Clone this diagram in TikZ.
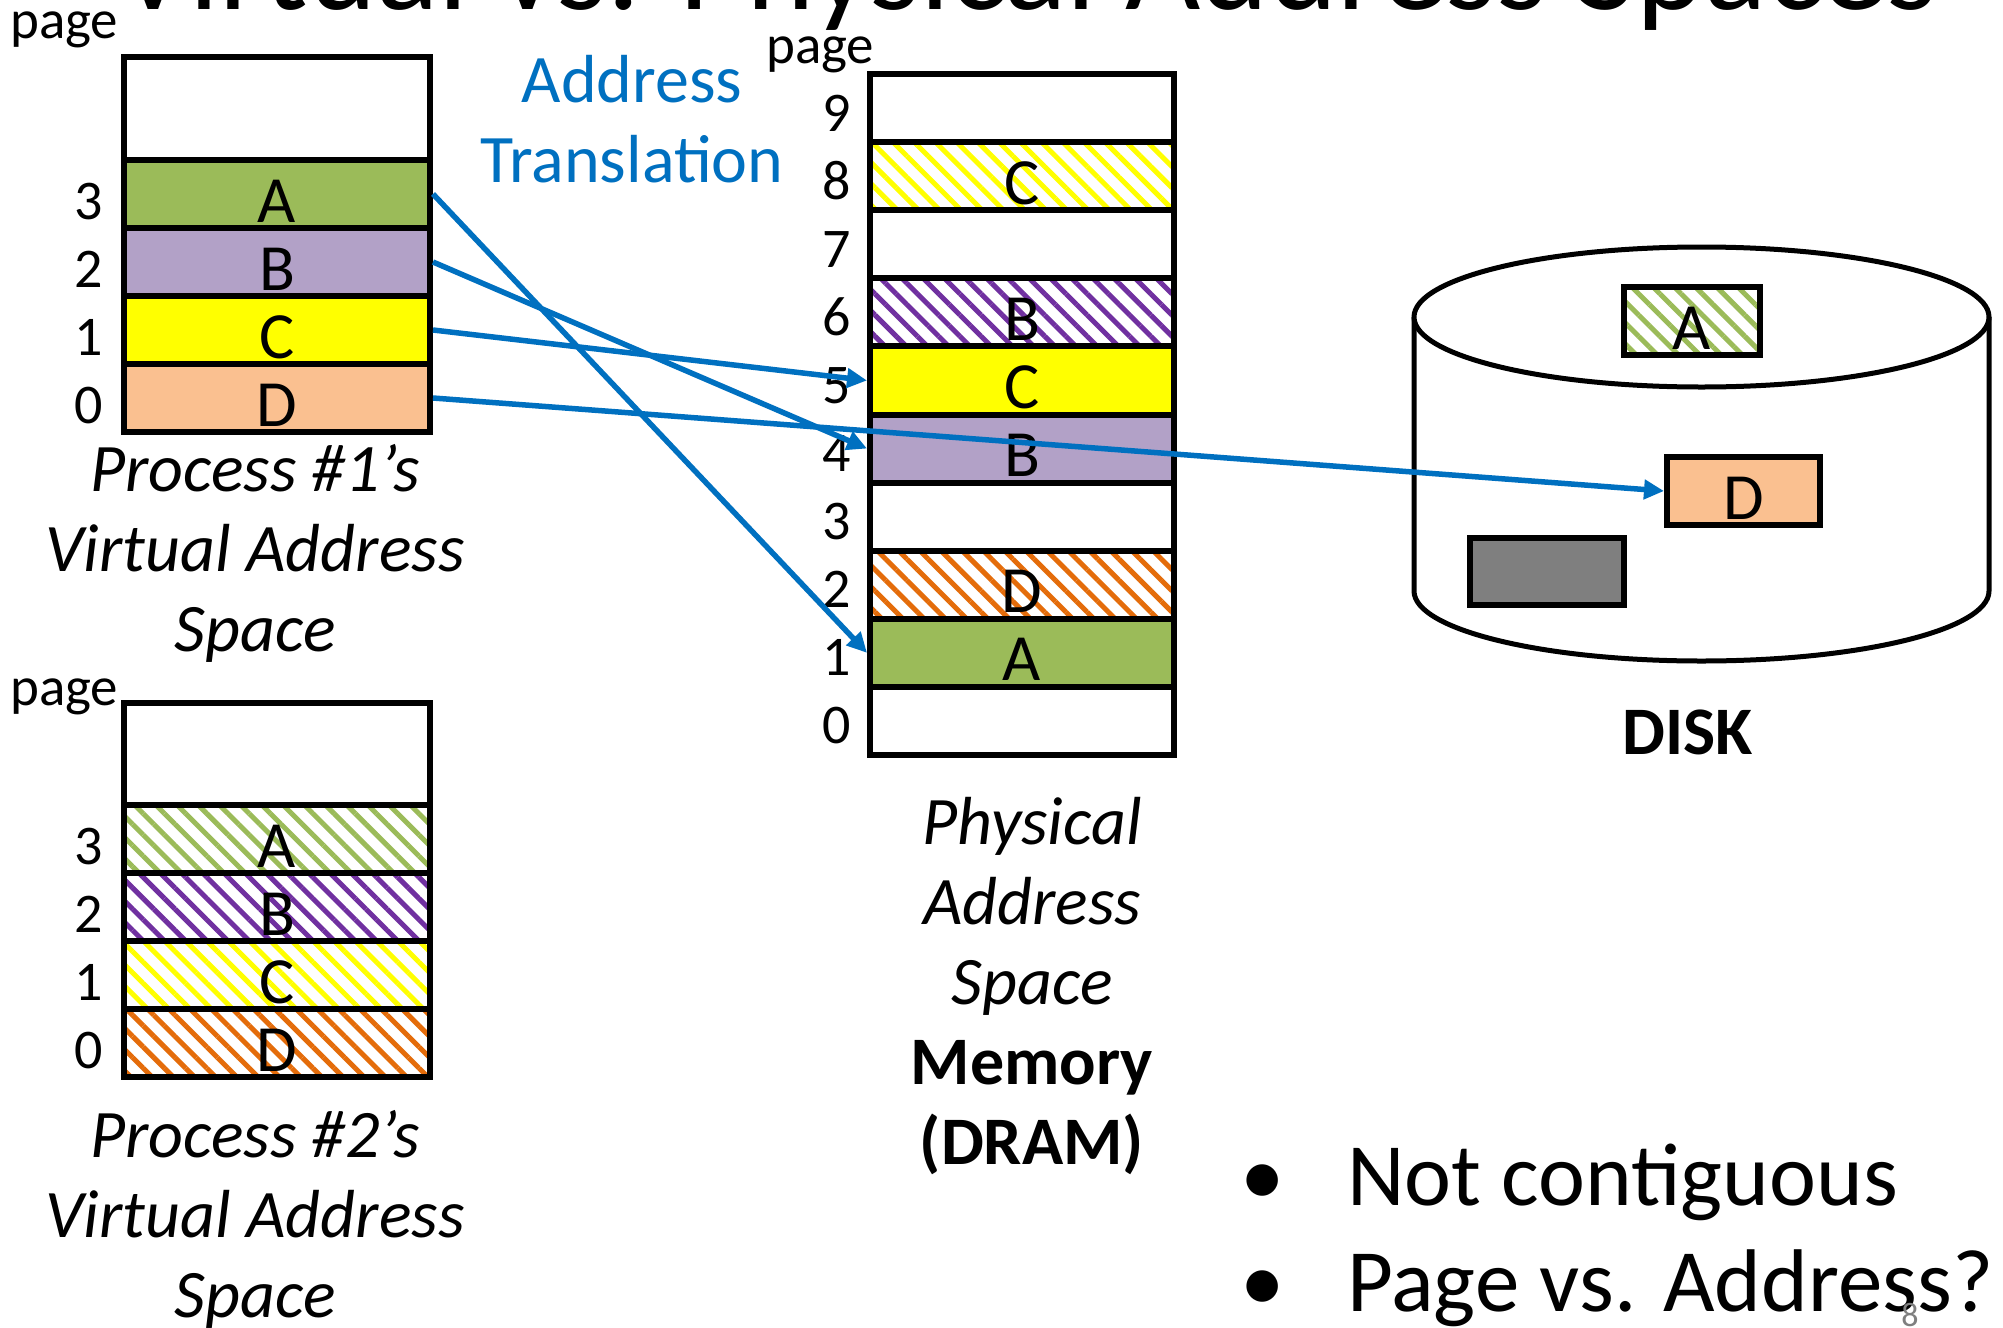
\documentclass[tikz,border=0pt]{standalone}
\usepackage{fontspec}
\setmainfont{Carlito}
\usetikzlibrary{arrows.meta,patterns.meta}
\definecolor{xblue}{HTML}{0070C0}
\definecolor{pgreen}{HTML}{9BBB59}
\definecolor{plilac}{HTML}{B2A1C7}
\definecolor{pyellow}{HTML}{FFFF00}
\definecolor{ppeach}{HTML}{FAC090}
\definecolor{hpurple}{HTML}{7030A0}
\definecolor{horange}{HTML}{E46C0A}
\definecolor{dgray}{HTML}{7F7F7F}
\newcommand{\fsz}[2]{\fontsize{#1pt}{#2pt}\selectfont}
\begin{document}
\begin{tikzpicture}[x=1pt,y=-1pt,
  cell/.style={rectangle, draw=black, line width=6pt, inner sep=0pt,
    minimum width=306pt, minimum height=68pt, font=\fsz{66}{66},
    text height=56pt, text depth=0pt},
  mcell/.style={cell, minimum width=304pt, minimum height=68.1pt},
  hatch/.style={pattern={Lines[angle=-45,distance=15pt,line width=5pt]}, pattern color=#1},
  num/.style={font=\fsz{56}{56}, inner sep=0pt, text height=50pt, text depth=0pt},
  pagelbl/.style={font=\fsz{55}{55}, inner sep=0pt, anchor=base west},
  capt/.style={font=\fsz{68}{80}\itshape, align=center, inner sep=0pt},
  conn/.style={draw=xblue, line width=5.5pt, -{Triangle[length=20pt,width=19pt]}},
  diskline/.style={line width=5pt, draw=black}]

\path[use as bounding box, fill=white] (0,0) rectangle (2003,1328);

% slide title (runs off the top edge)
\node[font=\fsz{130}{130}, anchor=base, inner sep=0pt] (title) at (1027,9) {Virtual vs. Physical Address Spaces};

% ---------- disk ----------
\filldraw[diskline, fill=white] (1414,317) -- (1414,591)
  arc[start angle=180, end angle=360, x radius=287.5pt, y radius=70pt] -- (1989,317);
\draw[diskline, fill=white] (1701.5,317) ellipse [x radius=287.5pt, y radius=70pt];
\node[cell, minimum width=136pt, hatch=pgreen] (dA) at (1692,321) {A};
\node[cell, minimum width=153pt, fill=ppeach] (dD) at (1743.5,491) {D};
\node[cell, minimum width=154pt, minimum height=67pt, fill=dgray] (dG) at (1547,571.5) {};
\node[font=\fsz{68}{68}\bfseries, inner sep=0pt] (disklbl) at (1687.5,732) {DISK};

% ---------- physical memory ----------
\node[pagelbl] (pgm) at (766,63) {page};
\node[mcell] (m9) at (1022,108.05) {};
\node[mcell, hatch=pyellow] (m8) at (1022,176.15) {C};
\node[mcell] (m7) at (1022,244.25) {};
\node[mcell, hatch=hpurple] (m6) at (1022,312.35) {B};
\node[mcell, fill=pyellow] (m5) at (1022,380.45) {C};
\node[mcell, fill=plilac] (m4) at (1022,448.55) {B};
\node[mcell] (m3) at (1022,516.65) {};
\node[mcell, hatch=horange] (m2) at (1022,584.75) {D};
\node[mcell, fill=pgreen] (m1) at (1022,652.85) {A};
\node[mcell] (m0) at (1022,720.95) {};
\foreach \i in {0,...,9}
  \node[num] (mn\i) at (837,{753-68.1*(\i+0.5)}) {\i};
\node[capt] (mcap) at (1032,986)
  {Physical\\Address\\Space\\{\upshape\bfseries Memory}\\{\upshape\bfseries (DRAM)}};

% ---------- process 1 ----------
\node[pagelbl] (pg1) at (10,38) {page};
\node[cell, minimum height=103pt] (p1t) at (277,108.5) {};
\node[cell, fill=pgreen] (p1a) at (277,194) {A};
\node[cell, fill=plilac] (p1b) at (277,262) {B};
\node[cell, fill=pyellow] (p1c) at (277,330) {C};
\node[cell, fill=ppeach] (p1d) at (277,398) {D};
\foreach \i/\y in {3/194,2/262,1/330,0/398}
  \node[num] (pa\i) at (89,\y) {\i};
\node[capt] (p1cap) at (255,553) {Process \#1’s\\Virtual Address\\Space};

% ---------- process 2 ----------
\node[pagelbl] (pg2) at (10,705) {page};
\node[cell, minimum height=102pt] (p2t) at (277,754) {};
\node[cell, hatch=pgreen] (p2a) at (277,839) {A};
\node[cell, hatch=hpurple] (p2b) at (277,907) {B};
\node[cell, hatch=pyellow] (p2c) at (277,975) {C};
\node[cell, hatch=horange] (p2d) at (277,1043) {D};
\foreach \i/\y in {3/839,2/907,1/975,0/1043}
  \node[num] (pb\i) at (89,\y) {\i};
\node[capt] (p2cap) at (255,1219) {Process \#2’s\\Virtual Address\\Space};

% ---------- translation ----------
\node[font=\fsz{68}{80}, text=xblue, align=center, inner sep=0pt] (xlat) at (632,119)
  {Address\\Translation};
\draw[conn] (p1a.east) -- (m1.west);
\draw[conn] (p1b.east) -- (m4.west);
\draw[conn] (p1c.east) -- (m5.west);
\draw[conn] (p1d.east) -- (dD.west);

% ---------- notes ----------
\node[font=\fsz{89}{106}, align=left, inner sep=0pt, anchor=west] (notes) at (1240,1235)
  {\makebox[107pt][l]{\textbullet}Not contiguous\\\makebox[107pt][l]{\textbullet}Page vs. Address?};
\node[font=\fsz{34}{34}, text=dgray, anchor=base, inner sep=0pt] (slideno) at (1910,1326) {8};
\end{tikzpicture}
\end{document}
